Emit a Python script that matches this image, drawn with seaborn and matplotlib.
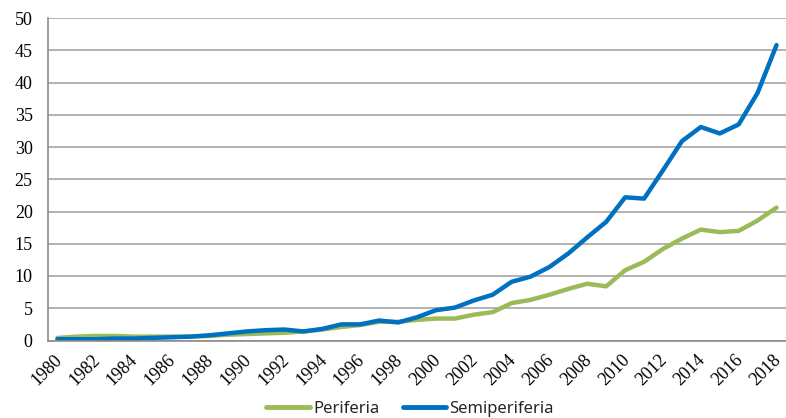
import pandas as pd
import matplotlib.pyplot as plt
import matplotlib.transforms as mtransforms
import seaborn as sns

# Data
years = list(range(1980, 2019))
periferia = [0.4, 0.6, 0.7, 0.7, 0.6, 0.6, 0.6, 0.6, 0.7, 0.9,
             1.0, 1.1, 1.2, 1.4, 1.7, 2.1, 2.4, 2.9, 2.9, 3.2,
             3.4, 3.4, 4.0, 4.4, 5.8, 6.3, 7.1, 8.0, 8.8, 8.4,
             10.9, 12.2, 14.2, 15.8, 17.2, 16.8, 17.0, 18.6, 20.6]
semiperiferia = [0.2, 0.2, 0.2, 0.3, 0.3, 0.4, 0.5, 0.6, 0.8, 1.1,
                 1.4, 1.6, 1.7, 1.4, 1.8, 2.5, 2.5, 3.1, 2.8, 3.6,
                 4.7, 5.1, 6.2, 7.1, 9.1, 9.9, 11.4, 13.5, 16.0, 18.4,
                 22.2, 22.0, 26.4, 30.9, 33.1, 32.1, 33.5, 38.4, 45.8]
series_names = ['Periferia', 'Semiperiferia']
colors = ['#9BBB59', '#0070C0']

df = pd.DataFrame({'Year': years, 'Periferia': periferia, 'Semiperiferia': semiperiferia})
long_df = df.melt(id_vars='Year', var_name='Serie', value_name='Valor')

sns.set_theme(style='white')
plt.rcParams['font.family'] = ['Liberation Serif', 'DejaVu Serif']

fig = plt.figure(figsize=(7.86, 4.18), dpi=100)
ax = fig.add_axes([48 / 786, 77.5 / 418, 738 / 786, 322.5 / 418])

sns.lineplot(data=long_df, x='Year', y='Valor', hue='Serie', hue_order=series_names,
             palette=colors, linewidth=3.2, ax=ax, legend=False)

ax.set_ylim(0, 50)
ax.set_xlim(1979.5, 2018.5 - 6 / 19.1)
ax.set_yticks(range(0, 51, 5))
ax.yaxis.grid(True, color='#a6a6a6', linewidth=1.2)
ax.set_axisbelow(True)

# category ticks at boundaries, labels every other year
ax.set_xticks([y - 0.5 for y in years] + [2018.5], minor=True)
ax.set_xticks(years[::2])
ax.set_xticklabels([str(y) for y in years[::2]], rotation=45, ha='right',
                   rotation_mode='anchor', fontsize=13)
ax.tick_params(axis='x', which='major', length=0, pad=8)
ax.tick_params(axis='x', which='minor', length=5, color='#8c8c8c', width=1.2, direction='out')
ax.tick_params(axis='y', length=5, color='#8c8c8c', width=1.2, direction='out', labelsize=13, pad=6)
shift = mtransforms.ScaledTranslation(-0.04, 0, fig.dpi_scale_trans)
for lbl in ax.get_xticklabels():
    lbl.set_color('black')
    lbl.set_transform(lbl.get_transform() + shift)
for lbl in ax.get_yticklabels():
    lbl.set_color('black')

for side in ['top', 'right']:
    ax.spines[side].set_visible(False)
ax.spines['left'].set_color('#8c8c8c')
ax.spines['left'].set_linewidth(1.2)
ax.spines['bottom'].set_color('#8c8c8c')
ax.spines['bottom'].set_linewidth(1.2)
ax.set_xlabel('')
ax.set_ylabel('')

handles = [plt.Line2D([], [], color=c, linewidth=3.5) for c in colors]
fig.legend(handles, series_names, loc='center', bbox_to_anchor=(410 / 786, 1 - 409 / 418),
           ncol=2, frameon=False, handlelength=2.6, handletextpad=0.2, columnspacing=1.4,
           prop={'family': 'Noto Sans', 'size': 12})

fig.savefig('out.png', dpi=100)
